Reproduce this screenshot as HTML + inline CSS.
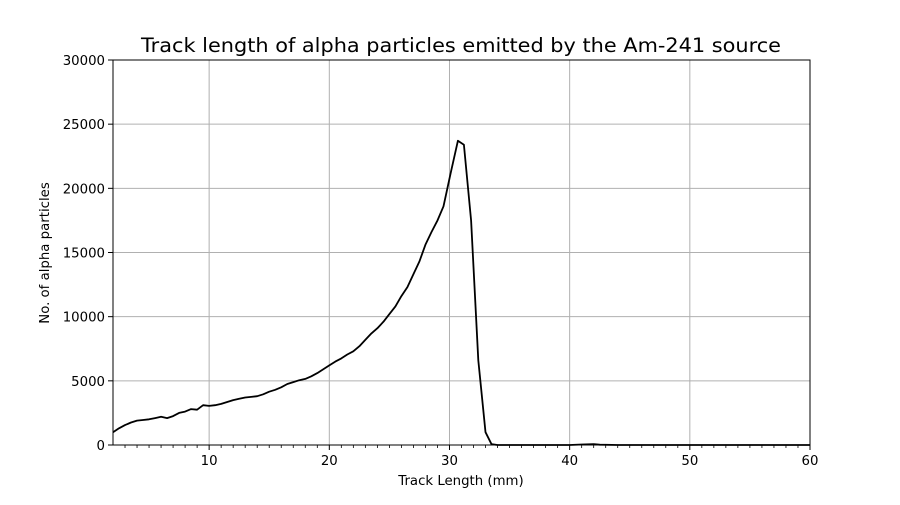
<!DOCTYPE html>
<html><head><meta charset="utf-8"><style>
body{margin:0;background:#fff;}
svg text{font-family:"DejaVu Sans","Liberation Sans",sans-serif;}
</style></head><body>
<svg id="chart" width="900" height="500" xmlns="http://www.w3.org/2000/svg">
<rect width="900" height="500" fill="#fff"/>
<text x="461" y="52" text-anchor="middle" font-size="19.5" textLength="640" lengthAdjust="spacingAndGlyphs">Track length of alpha particles emitted by the Am-241 source</text>
<g id="grid"></g>
<g id="ticks"></g>
<path id="line" fill="none" stroke="#000" stroke-width="1.8" stroke-linejoin="round"/>
<rect x="113" y="60" width="697" height="385" fill="none" stroke="#000" stroke-width="1"/>
<text x="461" y="485" text-anchor="middle" font-size="13.3">Track Length (mm)</text>
<text transform="translate(49,253) rotate(-90)" text-anchor="middle" font-size="13.3">No. of alpha particles</text>
</svg>
<script>
const xs=[2,2.5,3,3.5,4,4.5,5,5.5,6,6.5,7,7.5,8,8.5,9,9.5,10,10.5,11,11.5,12,12.5,13,13.5,14,14.5,15,15.5,16,16.5,17,17.5,18,18.5,19,19.5,20,20.5,21,21.5,22,22.5,23,23.5,24,24.5,25,25.5,26,26.5,27,27.5,28,28.5,29,29.5,30.1,30.7,31.2,31.8,32.4,33,33.5,34,36,38,40,41,42,42.5,44,46,50,55,60];
const counts=[1000,1300,1550,1750,1900,1950,2000,2100,2200,2100,2250,2500,2600,2800,2750,3100,3050,3100,3200,3350,3500,3600,3700,3750,3800,3950,4150,4300,4500,4750,4900,5050,5150,5350,5600,5900,6200,6500,6750,7050,7300,7700,8200,8700,9100,9600,10200,10800,11600,12300,13300,14300,15600,16600,17500,18600,21200,23700,23400,17500,6600,1000,60,0,0,0,0,40,60,20,0,0,0,0,0];
const xTicks=[10,20,30,40,50,60];
const yTicks=[0,5000,10000,15000,20000,25000,30000];
const X0=113,X1=810,Y0=445,Y1=60,xmin=2,xmax=60,ymin=0,ymax=30000;
const sx=v=>X0+(v-xmin)/(xmax-xmin)*(X1-X0);
const sy=v=>Y0-(v-ymin)/(ymax-ymin)*(Y0-Y1);
const NS="http://www.w3.org/2000/svg";
const grid=document.getElementById('grid'),ticks=document.getElementById('ticks');
function mk(tag,attrs,parent){const e=document.createElementNS(NS,tag);for(const k in attrs)e.setAttribute(k,attrs[k]);parent.appendChild(e);return e;}
xTicks.forEach(t=>{
  const x=sx(t);
  const g=mk('line',{x1:x,x2:x,y1:Y1,y2:Y0,stroke:'#b0b0b0','stroke-width':1},grid);
  
  
  mk('line',{x1:x,x2:x,y1:Y0,y2:Y0+5,stroke:'#000'},ticks);
  const tx=mk('text',{x:x,y:Y0+20,'text-anchor':'middle','font-size':13.3},ticks);
  tx.textContent=t;
  
  
});
for(let m=3;m<60;m++){if(m%10===0)continue;const x=sx(m);mk('line',{x1:x,x2:x,y1:Y0,y2:Y0+3,stroke:'#000','stroke-width':0.8},ticks);}
yTicks.forEach(t=>{
  const y=sy(t);
  const g=mk('line',{x1:X0,x2:X1,y1:y,y2:y,stroke:'#b0b0b0','stroke-width':1},grid);
  
  
  mk('line',{x1:X0-5,x2:X0,y1:y,y2:y,stroke:'#000'},ticks);
  const tx=mk('text',{x:X0-8,y:y+5,'text-anchor':'end','font-size':13.3},ticks);
  tx.textContent=t;
  
  
});
document.getElementById('line').setAttribute('d',xs.map((x,i)=>(i?'L':'M')+sx(x).toFixed(1)+','+sy(counts[i]).toFixed(1)).join(''));
</script>
</body></html>
